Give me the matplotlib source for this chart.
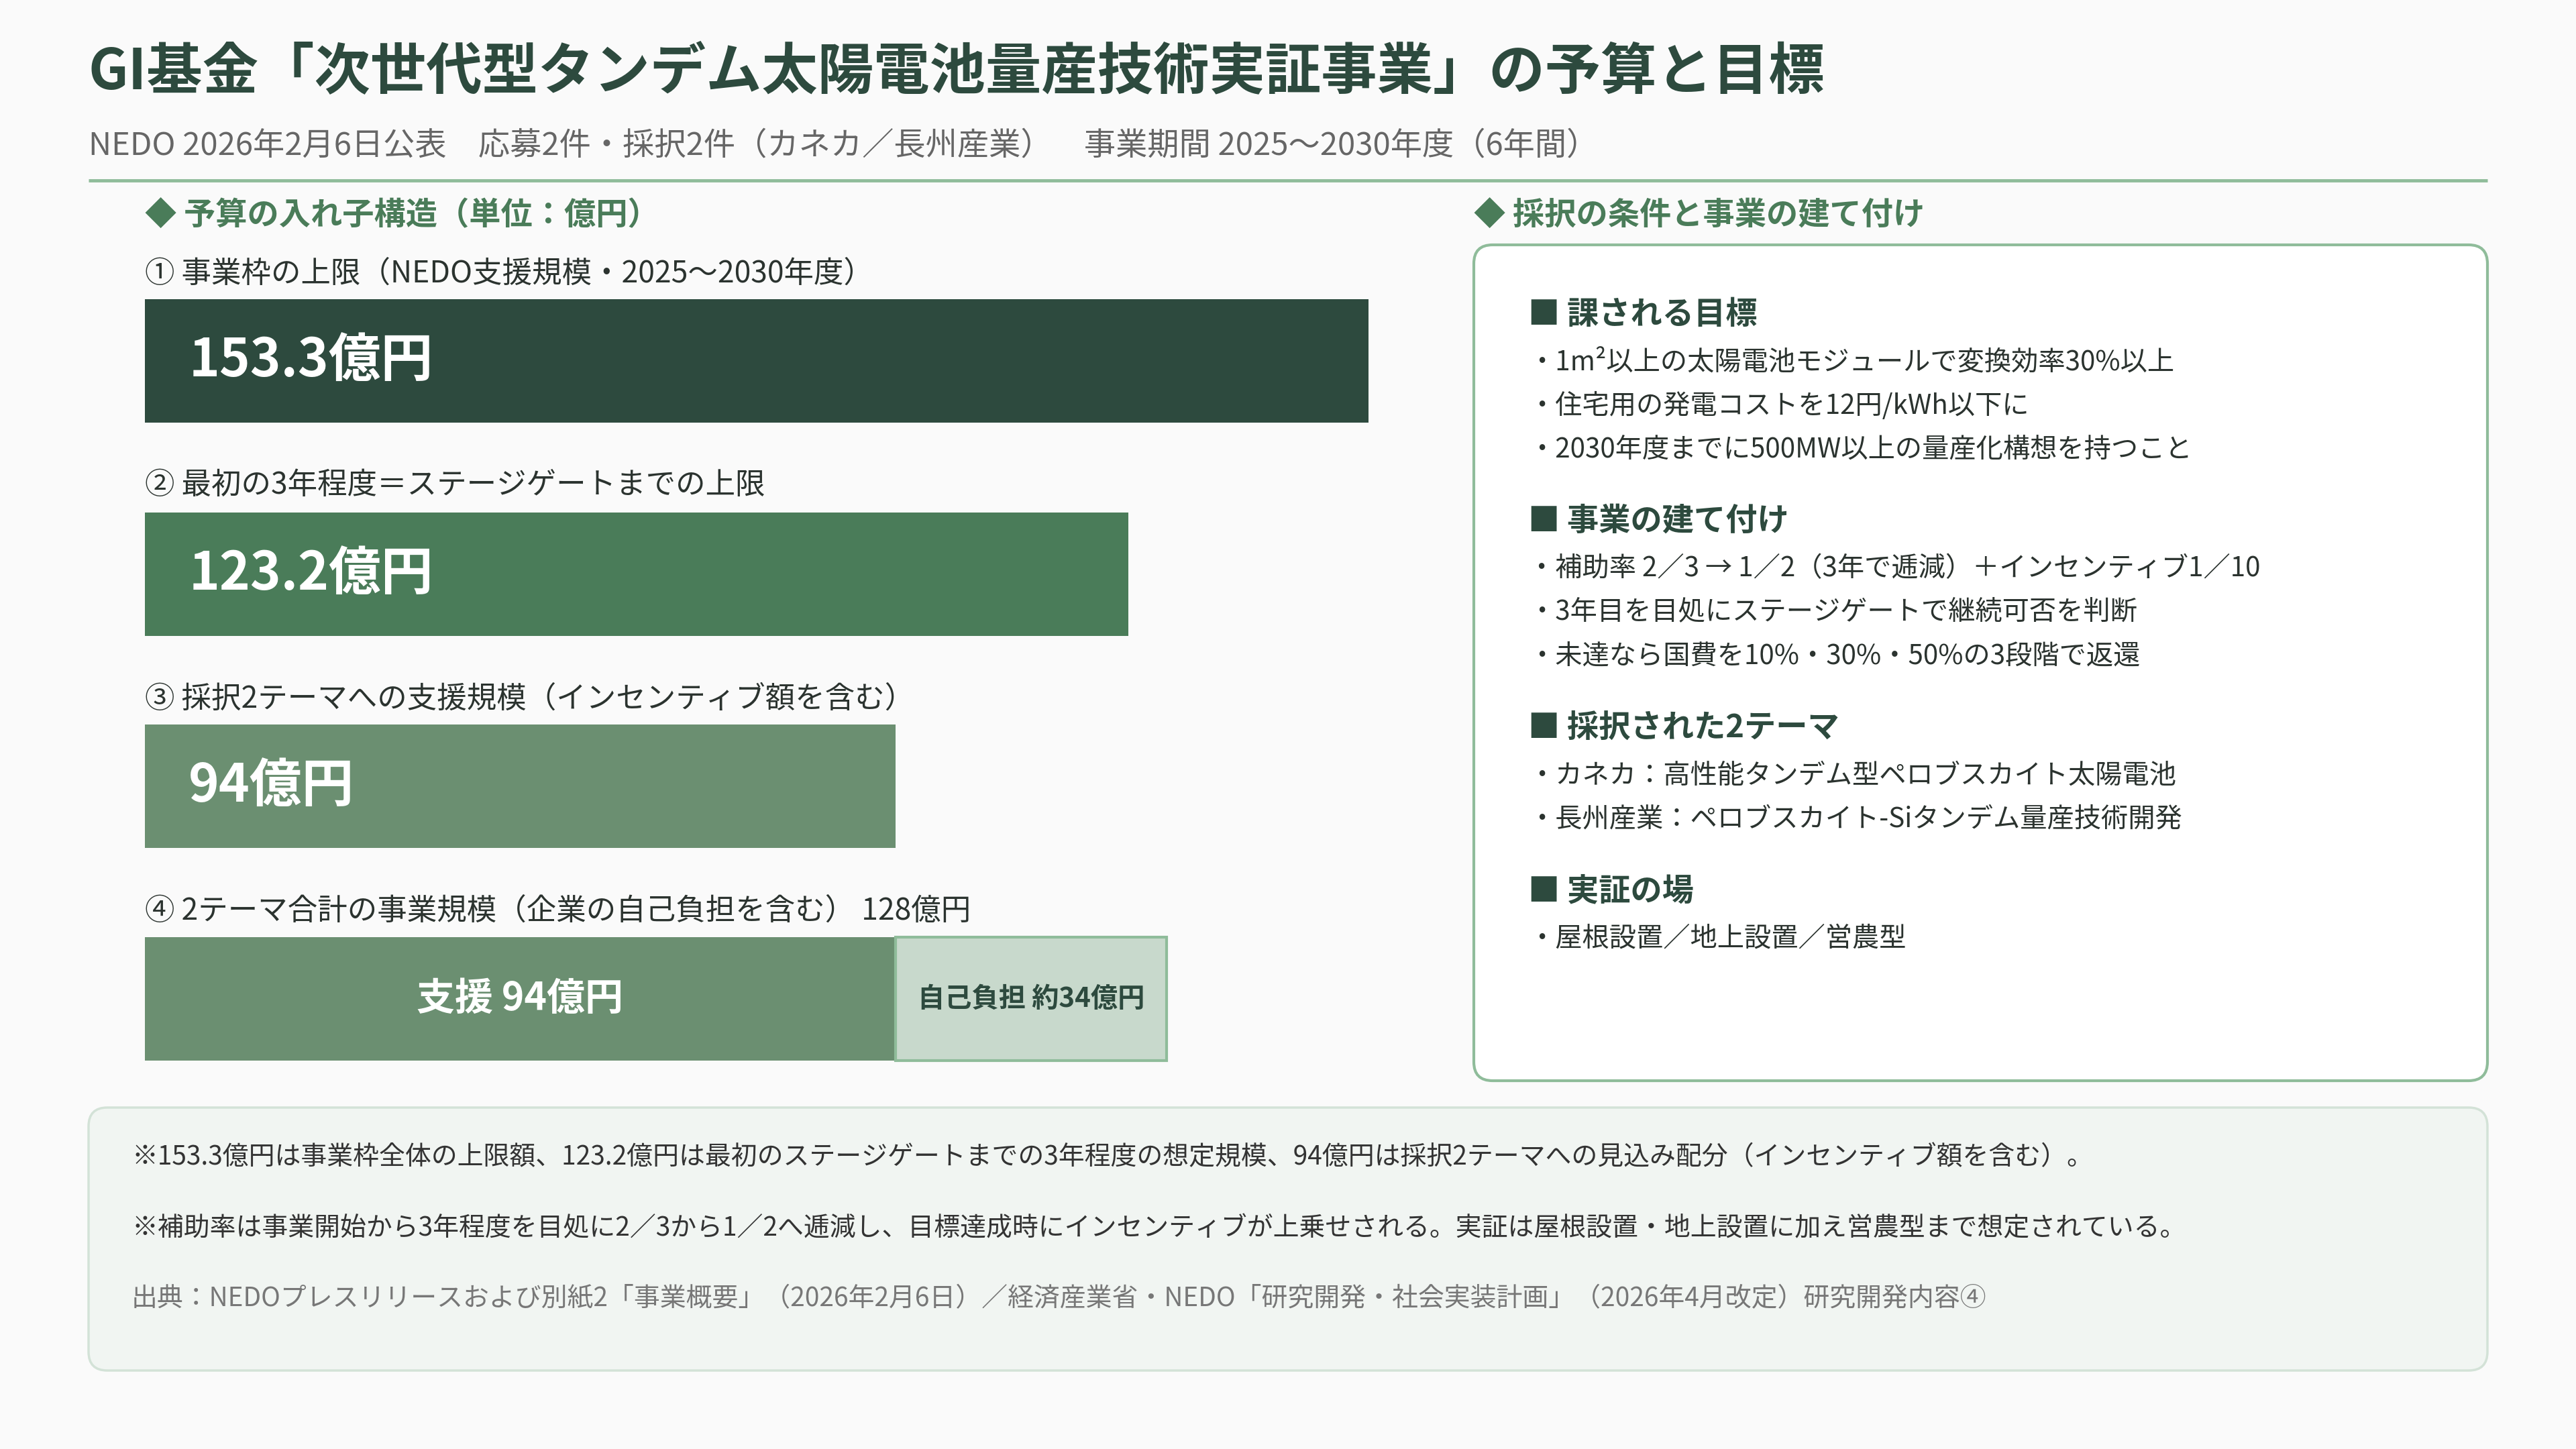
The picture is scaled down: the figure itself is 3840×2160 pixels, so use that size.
import matplotlib
matplotlib.use("Agg")
import matplotlib.pyplot as plt
from matplotlib.patches import FancyBboxPatch
from matplotlib import transforms

plt.rcParams['font.family'] = ['Noto Sans CJK JP', 'DejaVu Sans']

# ---------------- data ----------------
title = "GI基金「次世代型タンデム太陽電池量産技術実証事業」の予算と目標"
subtitle = "NEDO 2026年2月6日公表　応募2件・採択2件（カネカ／長州産業）　事業期間 2025〜2030年度（6年間）"
left_header = "◆ 予算の入れ子構造（単位：億円）"
right_header = "◆ 採択の条件と事業の建て付け"

bar_labels = [
    "① 事業枠の上限（NEDO支援規模・2025〜2030年度）",
    "② 最初の3年程度＝ステージゲートまでの上限",
    "③ 採択2テーマへの支援規模（インセンティブ額を含む）",
]
bar_values = [153.3, 123.2, 94]
bar_colors = ["#2d4a3e", "#4a7c59", "#6b8f71"]

stack_label = "④ 2テーマ合計の事業規模（企業の自己負担を含む）"
stack_names = ["支援", "自己負担 約"]
stack_values = [94, 34]

sections = [
    ("課される目標", [
        "・1m²以上の太陽電池モジュールで変換効率30%以上",
        "・住宅用の発電コストを12円/kWh以下に",
        "・2030年度までに500MW以上の量産化構想を持つこと",
    ]),
    ("事業の建て付け", [
        "・補助率 2／3 → 1／2（3年で逓減）＋インセンティブ1／10",
        "・3年目を目処にステージゲートで継続可否を判断",
        "・未達なら国費を10%・30%・50%の3段階で返還",
    ]),
    ("採択された2テーマ", [
        "・カネカ：高性能タンデム型ペロブスカイト太陽電池",
        "・長州産業：ペロブスカイト-Siタンデム量産技術開発",
    ]),
    ("実証の場", [
        "・屋根設置／地上設置／営農型",
    ]),
]

notes = [
    "※153.3億円は事業枠全体の上限額、123.2億円は最初のステージゲートまでの3年程度の想定規模、94億円は採択2テーマへの見込み配分（インセンティブ額を含む）。",
    "※補助率は事業開始から3年程度を目処に2／3から1／2へ逓減し、目標達成時にインセンティブが上乗せされる。実証は屋根設置・地上設置に加え営農型まで想定されている。",
    "出典：NEDOプレスリリースおよび別紙2「事業概要」（2026年2月6日）／経済産業省・NEDO「研究開発・社会実装計画」（2026年4月改定）研究開発内容④",
]

# ---------------- colours ----------------
BG = "#fafafa"
DARK = "#2d4a3e"
MID = "#4a7c59"
LINE = "#8fbc9a"
TEXT = "#2b332f"
GRAY = "#666666"

W, H = 3840, 2160
DY = 6  # vertical text nudge (px)
fig = plt.figure(figsize=(W / 100, H / 100), dpi=100, facecolor=BG)

# overlay axes in pixel coordinates (layout only)
bg = fig.add_axes([0, 0, 1, 1])
bg.set_xlim(0, W)
bg.set_ylim(H, 0)
bg.axis("off")
bg.set_facecolor(BG)

# title & subtitle
bg.text(132, 103 + DY, title, fontsize=60, fontweight="bold", color=DARK, va="center", ha="left")
bg.text(132, 211 + DY, subtitle, fontsize=34, color=GRAY, va="center", ha="left")
bg.plot([132, 3708], [269, 269], color=LINE, lw=3.5, solid_capstyle="butt")

# section headers
bg.text(216, 316 + DY, left_header, fontsize=34, fontweight="bold", color=MID, va="center")
bg.text(2197, 316 + DY, right_header, fontsize=34, fontweight="bold", color=MID, va="center")

# right panel box
bg.add_patch(FancyBboxPatch((2197, 365), 3708 - 2197, 1611 - 365,
                            boxstyle="round,pad=0,rounding_size=28",
                            facecolor="white", edgecolor=LINE, lw=3))
y = 463
for head, items in sections:
    bg.text(2278, y + DY, "■ " + head, fontsize=34, fontweight="bold", color=DARK, va="center")
    y += 71
    for it in items:
        bg.text(2278, y + DY, it, fontsize=29, color=TEXT, va="center")
        y += 65
    y += 42

# note box
bg.add_patch(FancyBboxPatch((132, 1651), 3708 - 132, 2043 - 1651,
                            boxstyle="round,pad=0,rounding_size=28",
                            facecolor="#f1f5f2", edgecolor="#d3e2d7", lw=2.5))
note_y = [1719, 1825, 1930]
note_colors = ["#333333", "#333333", "#777777"]
for t, yy, c in zip(notes, note_y, note_colors):
    bg.text(196, yy + DY, t, fontsize=28, color=c, va="center")

# ---------------- bar axes ----------------
px_per_unit = 11.9
ax_left, ax_w = 216, 1944
ax = fig.add_axes([ax_left / W, 0, ax_w / W, 1])
ax.set_xlim(0, ax_w / px_per_unit)
ax.set_ylim(H, 0)
ax.axis("off")
ax.patch.set_alpha(0)

bar_centers = [538, 856, 1172]
label_ys = [402, 717, 1036]
bar_h = 184
off = transforms.offset_copy(ax.transData, fig=fig, x=47, y=0, units="points")
for lab, v, c, yc, ly in zip(bar_labels, bar_values, bar_colors, bar_centers, label_ys):
    ax.text(0, ly + DY, lab, fontsize=32, color=TEXT, va="center", ha="left")
    ax.barh(yc, v, height=bar_h, color=c, edgecolor="none")
    ax.text(0, yc, f"{v:g}億円", fontsize=56, fontweight="bold", color="white",
            va="center", ha="left", transform=off)

# stacked bar
total = sum(stack_values)
ax.text(0, 1352 + DY, f"{stack_label} {total}億円", fontsize=32, color=TEXT, va="center", ha="left")
yc4 = 1489
ax.barh(yc4, stack_values[0], height=bar_h, color="#6b8f71", edgecolor="none")
ax.barh(yc4, stack_values[1], left=stack_values[0], height=bar_h,
        color="#c8d9cc", edgecolor=LINE, lw=3)
ax.text(stack_values[0] / 2, yc4, f"{stack_names[0]} {stack_values[0]}億円",
        fontsize=41, fontweight="bold", color="white", va="center", ha="center")
ax.text(stack_values[0] + stack_values[1] / 2, yc4, f"{stack_names[1]}{stack_values[1]}億円",
        fontsize=29, fontweight="bold", color=DARK, va="center", ha="center")

fig.savefig("out.png", dpi=100, facecolor=BG)
